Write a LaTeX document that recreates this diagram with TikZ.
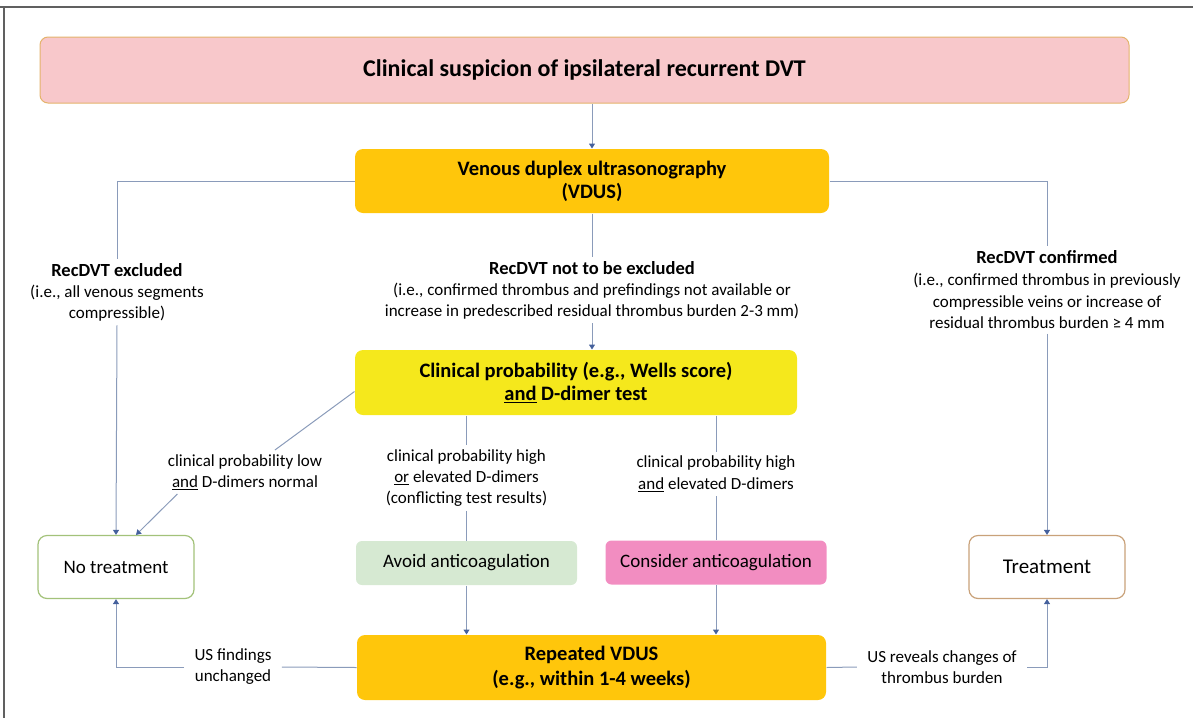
\documentclass[tikz,border=0pt]{standalone}
\usepackage{fontspec}
\setmainfont{Carlito}
\usetikzlibrary{arrows.meta}

\definecolor{toppink}{HTML}{F8C8CB}
\definecolor{topedge}{HTML}{E4B36B}
\definecolor{vdusyel}{HTML}{FFC60B}
\definecolor{clinyel}{HTML}{F5E81C}
\definecolor{avoidgreen}{HTML}{D6E9D2}
\definecolor{conspink}{HTML}{F28DC1}
\definecolor{greenedge}{HTML}{A3C27A}
\definecolor{tanedge}{HTML}{C9A27A}
\definecolor{lineblue}{HTML}{8A9BBA}
\definecolor{tipblue}{HTML}{44609C}
\definecolor{framegray}{HTML}{606060}

\begin{document}
\begin{tikzpicture}[x=1pt,y=-1pt,-,>={Triangle[length=5pt,width=6pt,color=tipblue]},
    line width=1pt, lineblue,
    big box/.style={rounded corners=8pt, align=center, inner sep=0pt, text=black,
        font=\bfseries\fontsize{20.5}{23}\selectfont},
    end box/.style={rounded corners=9pt, fill=white, line width=1.2pt, text=black,
        minimum width=156pt, minimum height=63pt, inner sep=0pt,
        font=\fontsize{19}{23}\selectfont},
    mid box/.style={rounded corners=6pt, text=black, minimum width=221pt,
        minimum height=44pt, inner sep=0pt, font=\fontsize{19}{22}\selectfont},
    lbl/.style={align=center, text=black, inner sep=4pt,
        font=\fontsize{17}{21}\selectfont}]

            \useasboundingbox (0,0) rectangle (1193,718);
            \draw[framegray, line width=1.5pt] (0,7) -- (1193,7);
            \draw[framegray, line width=1.5pt] (4,7) -- (4,718);

            \node[big box, draw=topedge, fill=toppink, minimum width=1089pt, minimum height=66pt,
                font=\bfseries\fontsize{24}{26}\selectfont] (susp) at (584.5,70)
                {Clinical suspicion of ipsilateral recurrent DVT};
            \node[big box, fill=vdusyel, minimum width=474pt, minimum height=64pt] (vdus) at (592,181)
                {Venous duplex ultrasonography\\(VDUS)};
            \node[big box, fill=clinyel, minimum width=442pt, minimum height=65pt] (clin) at (576,382.5)
                {Clinical probability (e.g., Wells score)\\\underline{and} D-dimer test};
            \node[big box, fill=vdusyel, minimum width=469pt, minimum height=65pt,
                font=\bfseries\fontsize{20.5}{25}\selectfont] (rep) at (591.5,667.5)
                {Repeated VDUS\\(e.g., within 1-4 weeks)};

            \node[end box, draw=greenedge] (notreat) at (116,567) {No treatment};
            \node[end box, draw=tanedge, font=\fontsize{21}{23}\selectfont] (treat) at (1047,567) {Treatment};
            \node[mid box, fill=avoidgreen] (avoid) at (466.5,563) {Avoid anticoagulation};
            \node[mid box, fill=conspink] (cons) at (716,562.5) {Consider anticoagulation};

            \node[lbl] (lexcl) at (117,292) {{\bfseries\fontsize{18.5}{21}\selectfont RecDVT excluded}\\(i.e., all venous segments\\compressible)};
            \node[lbl] (lnot) at (592,290) {{\bfseries\fontsize{18.5}{21}\selectfont RecDVT not to be excluded}\\(i.e., confirmed thrombus and prefindings not available or\\increase in predescribed residual thrombus burden 2-3 mm)};
            \node[lbl, font=\fontsize{17}{21.7}\selectfont] (lconf) at (1047,290) {{\bfseries\fontsize{18.5}{21.7}\selectfont RecDVT confirmed}\\(i.e., confirmed thrombus in previously\\compressible veins or increase of\\residual thrombus burden ≥ 4 mm};
            \node[lbl] (llow) at (245,472) {clinical probability low\\\underline{and} D-dimers normal};
            \node[lbl] (lhigh) at (466.5,478) {clinical probability high\\\underline{or} elevated D-dimers\\(conflicting test results)};
            \node[lbl, font=\fontsize{17}{22}\selectfont] (lboth) at (716,474) {clinical probability high\\\underline{and} elevated D-dimers};
            \node[lbl, inner xsep=10pt] (lunch) at (233,667) {US findings\\unchanged};
            \node[lbl, inner xsep=10pt] (lchg) at (942,667) {US reveals changes of\\thrombus burden};

            \draw[->] (vdus.north |- susp.south) to (vdus.north);
            \draw[-] (vdus.west) -| (lexcl.north);
            \draw[->] (lexcl.south) to (notreat.north);
            \draw[-] (vdus.east) -| (lconf.north);
            \draw[->] (lconf.south) to (treat.north);
            \draw[-] (vdus.south) to (lnot.north);
            \draw[->] (lnot.south) to (lnot.south |- clin.north);

            \draw[-] ([yshift=-9pt]clin.west) to (llow);
            \draw[->] ([xshift=14pt]llow.south west) to ([xshift=20pt]notreat.north);
            \draw[-] (clin.south -| avoid.north) to (lhigh.north);
            \draw[-] (lhigh.south) to (avoid.north);
            \draw[-] (clin.south -| cons.north) to (lboth.north);
            \draw[-] (lboth.south) to (cons.north);
            \draw[->] (avoid.south) to (avoid.south |- rep.north);
            \draw[->] (cons.south) to (cons.south |- rep.north);

            \draw[-] (rep.west) to (lunch.east);
            \draw[->] (lunch.west) -| (notreat.south);
            \draw[-] (rep.east) to (lchg.west);
            \draw[->] (lchg.east) -| (treat.south);

            ;
        \end{tikzpicture}
\end{document}
